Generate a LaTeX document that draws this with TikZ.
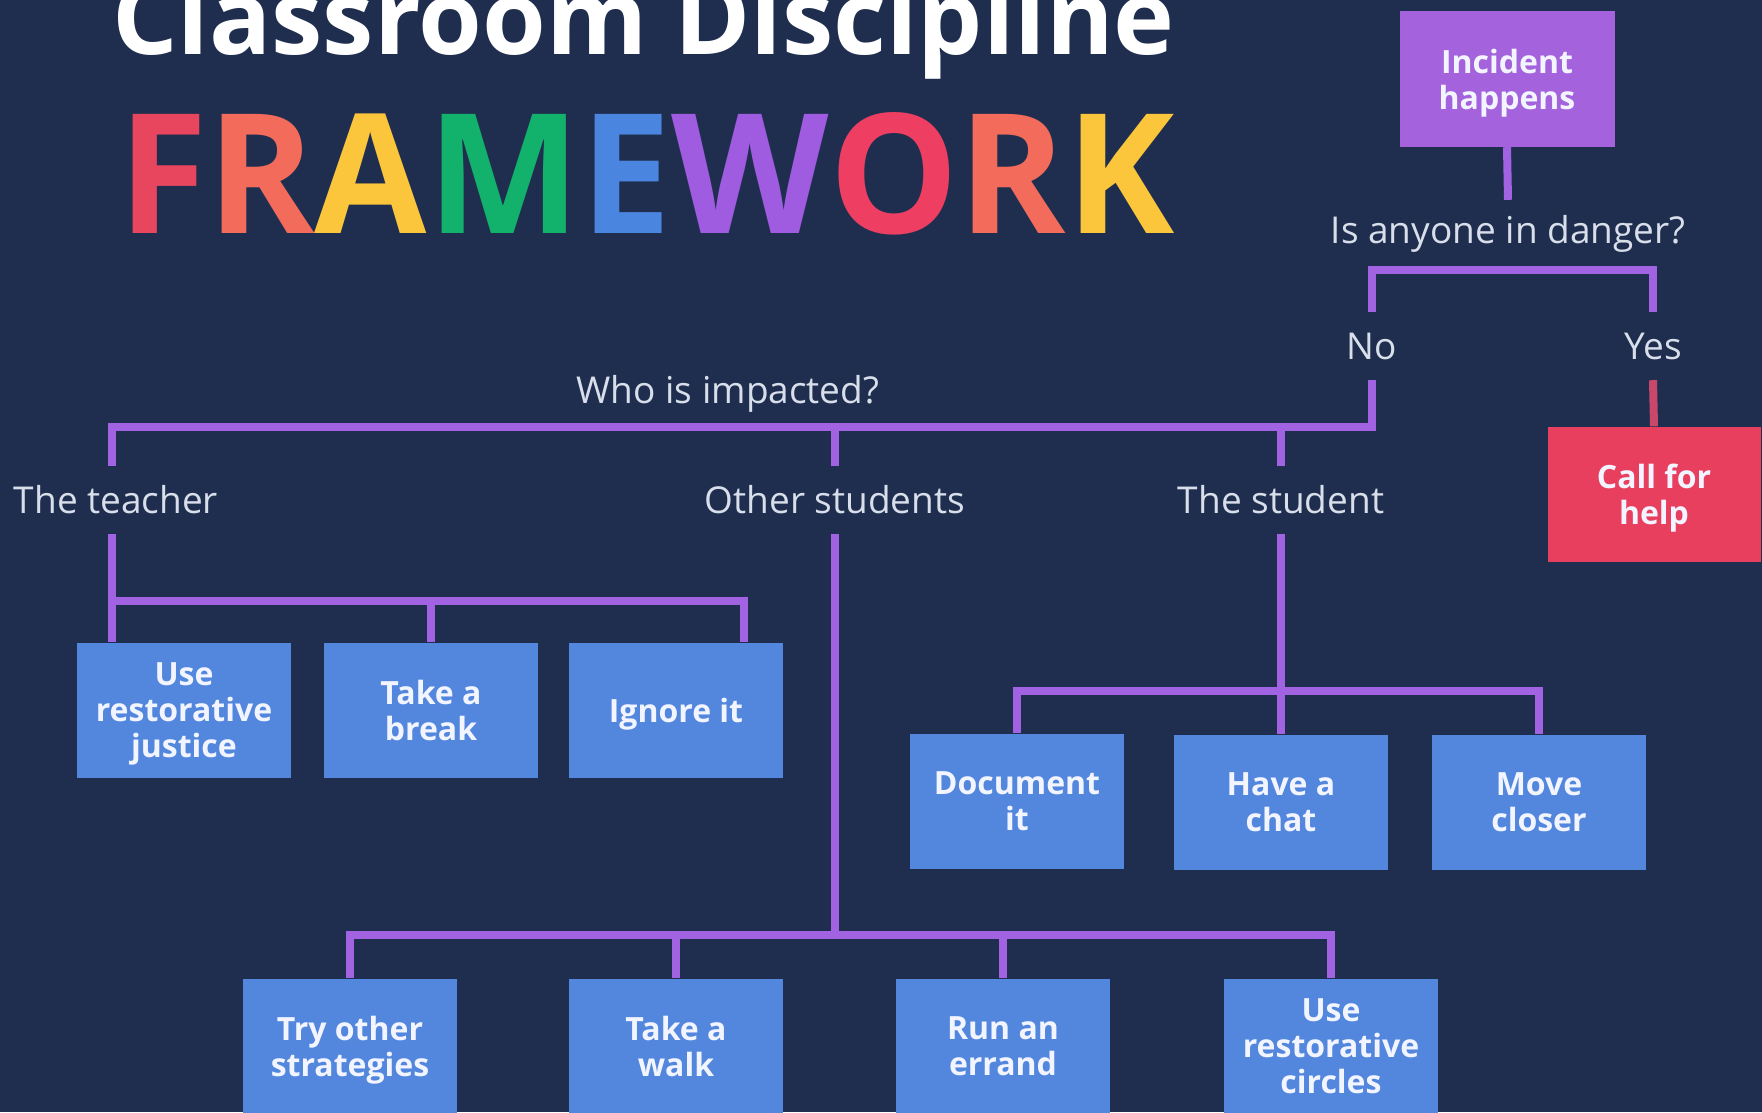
\documentclass[tikz,border=0pt]{standalone}
\usepackage{fontspec}
\setmainfont{Open Sans}
\usetikzlibrary{calc}
\definecolor{bg}{HTML}{1F2E4F}
\definecolor{boxblue}{HTML}{5387DE}
\definecolor{linepurple}{HTML}{A263E2}
\definecolor{incpurple}{HTML}{A463DD}
\definecolor{callred}{HTML}{E83F5F}
\definecolor{linered}{HTML}{C9476B}
\definecolor{lbltext}{HTML}{D9DFEA}
\definecolor{boxtxt}{HTML}{F2F5FF}
\definecolor{cF}{HTML}{E8455E}
\definecolor{cR}{HTML}{F26B5B}
\definecolor{cA}{HTML}{FCC63C}
\definecolor{cM}{HTML}{12B26C}
\definecolor{cE}{HTML}{4A86E0}
\definecolor{cW}{HTML}{A05CE0}
\definecolor{cO}{HTML}{EE3F62}
\newcommand\nodepth[1]{\raisebox{0pt}[\height][0pt]{#1}}
\begin{document}
\begin{tikzpicture}[x=1pt,y=-1pt,
  actbox/.style={fill=boxblue, minimum width=214pt, minimum height=135pt, inner sep=0pt,
    text=boxtxt, align=center, font=\bfseries\fontsize{32}{36}\selectfont},
  labelnode/.style={inner sep=0pt, minimum height=68pt, text=lbltext,
    font=\fontsize{37}{40}\selectfont},
  conn/.style={draw=linepurple, line width=8pt, line join=miter}]
\useasboundingbox (0,0) rectangle (1762,1112);
\clip (0,0) rectangle (1762,1112);
\fill[bg] (0,0) rectangle (1762,1112);

% titles
\node[anchor=base west, inner sep=0pt, text=white, font=\bfseries] (title) at (112,54)
  {\resizebox{1062pt}{!}{Classroom Discipline}};
\node[anchor=base west, inner sep=0pt, font=\bfseries] (fw) at (118,233)
  {\resizebox{1056pt}{121pt}{\textcolor{cF}{F}\textcolor{cR}{R}\textcolor{cA}{A}\textcolor{cM}{M}\textcolor{cE}{E}\textcolor{cW}{W}\textcolor{cO}{O}\textcolor{cR}{R}\textcolor{cA}{K}}};

% top decision
\node[actbox, fill=incpurple, minimum width=215pt, minimum height=136pt] (inc) at (1507,79) {Incident\\\nodepth{happens}};
\node[labelnode] (danger) at (1508,234) {Is anyone in danger?};
\node[labelnode] (no) at (1372,346) {No};
\node[labelnode] (yes) at (1653,346) {Yes};
\node[actbox, fill=callred, minimum width=213pt] (call) at (1654,494) {Call for\\\nodepth{help}};

\node[labelnode] (who) at (728,394) {Who is impacted?};
\node[labelnode] (teacher) at (116,500) {The teacher};
\node[labelnode] (other) at (835,500) {Other students};
\node[labelnode] (student) at (1281,500) {The student};

\node[actbox] (urj) at (184,710) {Use\\restorative\\\nodepth{justice}};
\node[actbox] (brk) at (431,710) {Take a\\break};
\node[actbox] (ignore) at (676,710) {\nodepth{Ignore it}};

\node[actbox] (doc) at (1017,801) {Document\\it};
\node[actbox] (chat) at (1281,802) {Have a\\chat};
\node[actbox] (move) at (1539,802) {Move\\closer};

\node[actbox] (try) at (350,1046) {Try other\\\nodepth{strategies}};
\node[actbox] (walk) at (676,1046) {Take a\\walk};
\node[actbox] (errand) at (1003,1046) {Run an\\errand};
\node[actbox] (circles) at (1331,1046) {Use\\restorative\\circles};

% bar coordinates
\coordinate (dbar) at (0,270);
\coordinate (wbar) at (0,427);
\coordinate (t1) at (112,601);
\coordinate (t3) at (744,601);
\coordinate (sbar) at (0,691);
\coordinate (obar) at (0,935);

% connectors
\draw[conn] (inc.south) -- (danger.north);
\draw[conn] (no.north) -- (no.north |- dbar) -- (yes.north |- dbar) -- (yes.north);
\draw[conn, draw=linered] (yes.south) -- (call.north);
\draw[conn] (t1 |- teacher.north) -- (t1 |- wbar) -- (no.south |- wbar) -- (no.south);
\draw[conn] (other.north |- wbar) -- (other.north);
\draw[conn] (student.north |- wbar) -- (student.north);

\draw[conn] (t1 |- teacher.south) -- (t1 |- urj.north);
\draw[conn] (t1) -- (t3) -- (t3 |- ignore.north);
\draw[conn] (brk.north |- t1) -- (brk.north);

\draw[conn] (student.south) -- (chat.north);
\draw[conn] (doc.north) -- (doc.north |- sbar) -- (move.north |- sbar) -- (move.north);

\draw[conn] (other.south) -- (other.south |- obar);
\draw[conn] (try.north) -- (try.north |- obar) -- (circles.north |- obar) -- (circles.north);
\draw[conn] (walk.north |- obar) -- (walk.north);
\draw[conn] (errand.north |- obar) -- (errand.north);
\end{tikzpicture}
\end{document}
